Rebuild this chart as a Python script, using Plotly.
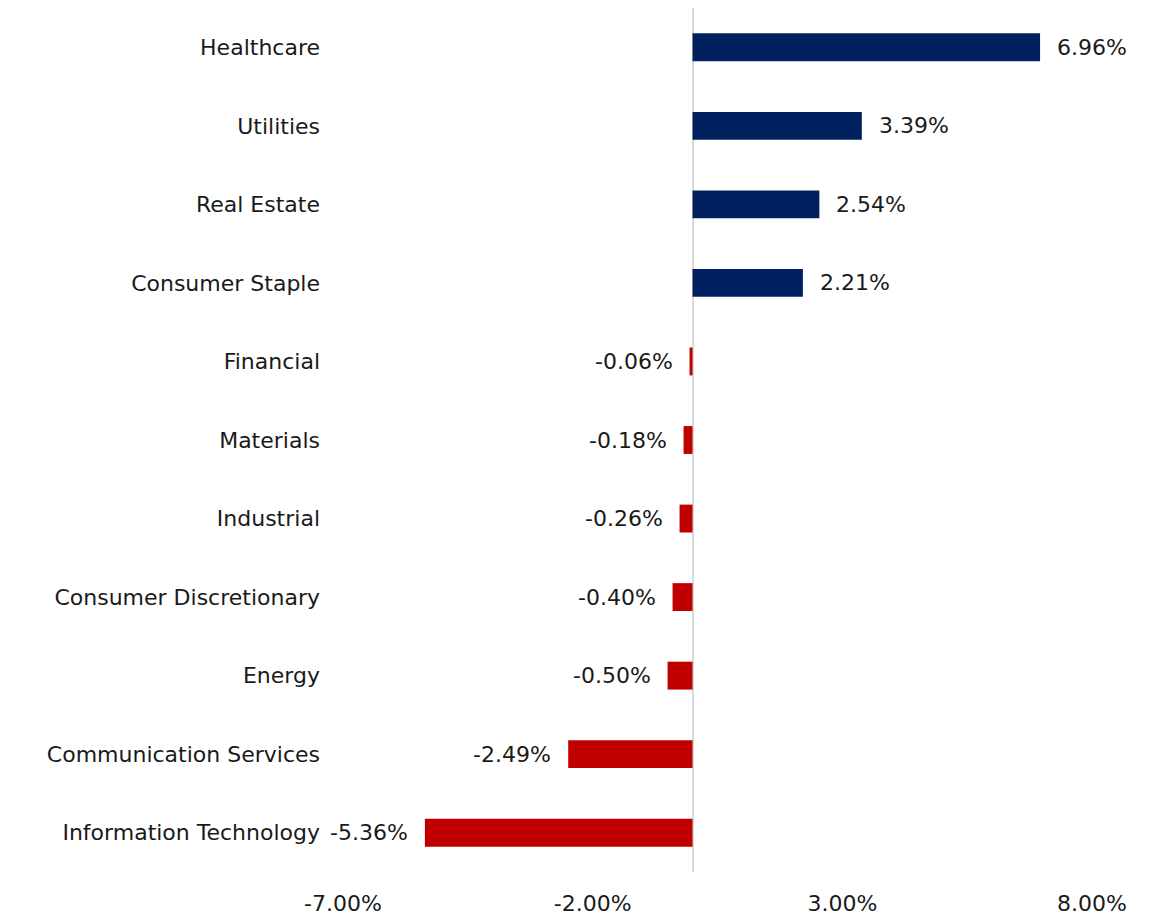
import plotly.graph_objects as go

categories = ["Healthcare", "Utilities", "Real Estate", "Consumer Staple", "Financial",
              "Materials", "Industrial", "Consumer Discretionary", "Energy",
              "Communication Services", "Information Technology"]
values = [6.96, 3.39, 2.54, 2.21, -0.06, -0.18, -0.26, -0.40, -0.50, -2.49, -5.36]
x_ticks = [-7, -2, 3, 8]
x_tick_labels = ["-7.00%", "-2.00%", "3.00%", "8.00%"]

POS = "#002060"
NEG = "#C00000"
FONT = "DejaVu Sans"
TXT = "#1a1a1a"

colors = [POS if v >= 0 else NEG for v in values]

fig = go.Figure(go.Bar(
    x=values, y=categories, orientation="h",
    marker=dict(color=colors, line=dict(width=0)),
    hoverinfo="skip",
))

for c, v in zip(categories, values):
    fig.add_annotation(
        x=v, y=c, xref="x", yref="y",
        text=f"{v:.2f}%", showarrow=False,
        xanchor="left" if v >= 0 else "right",
        xshift=15 if v >= 0 else -15,
        font=dict(family=FONT, size=22, color=TXT),
    )

fig.update_layout(
    width=1154, height=911,
    margin=dict(l=335, r=70, t=0, b=47),
    paper_bgcolor="white", plot_bgcolor="white",
    bargap=0.645,
    showlegend=False,
    font=dict(family=FONT, size=22, color=TXT),
)
fig.update_xaxes(
    range=[-7, 8], tickvals=x_ticks, ticktext=x_tick_labels,
    showgrid=False, showline=False, zeroline=True,
    zerolinecolor="#d9d9d9", zerolinewidth=2,
    ticks="", ticklabelstandoff=16,
    tickfont=dict(family=FONT, size=22, color=TXT),
)
fig.update_yaxes(
    autorange="reversed", showgrid=False, showline=False, zeroline=False,
    ticks="", ticklabelstandoff=22,
    tickfont=dict(family=FONT, size=22, color=TXT),
)

fig.write_html("out.html")
